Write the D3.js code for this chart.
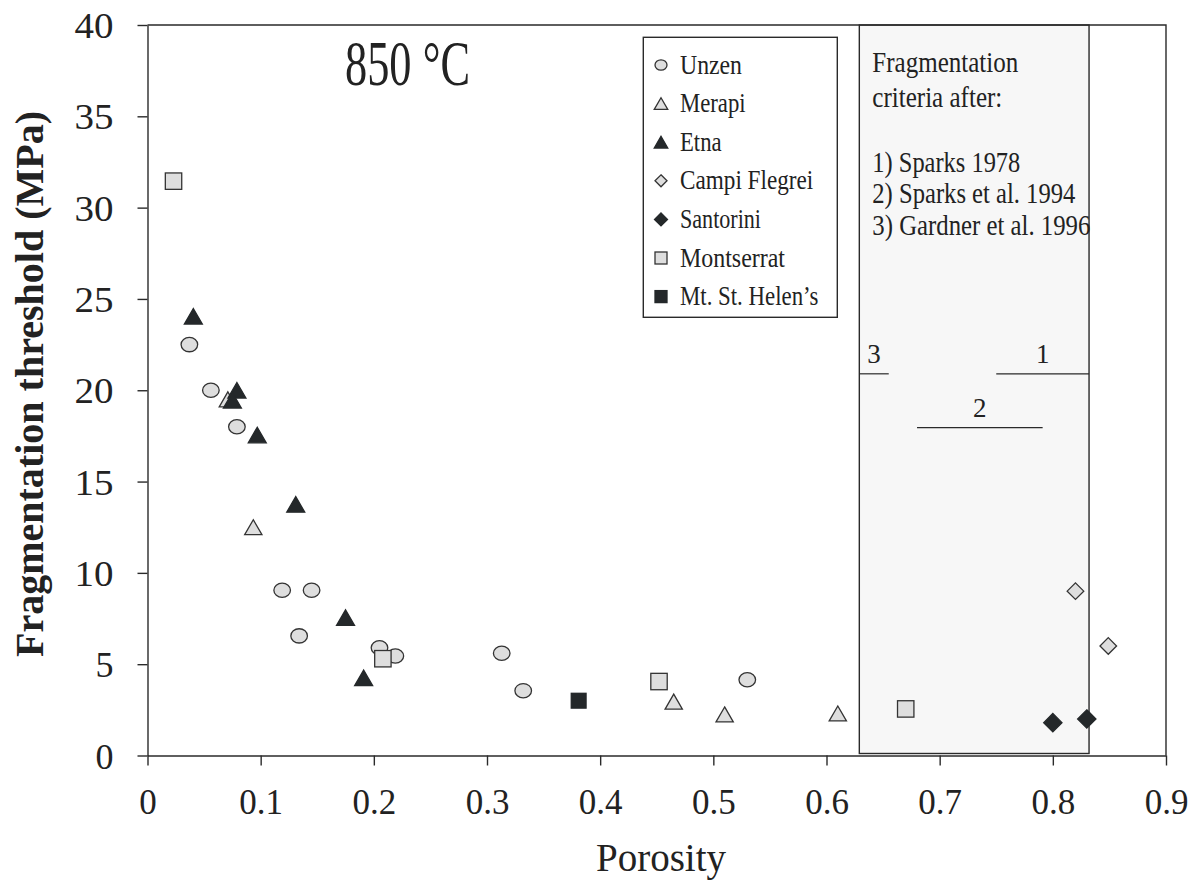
<!DOCTYPE html>
<html><head><meta charset="utf-8">
<script src="https://cdn.jsdelivr.net/npm/d3@7"></script>
<style>
body{margin:0;background:#fff}
text{font-family:"Liberation Serif","Times New Roman",serif;fill:#222}
</style>
</head><body>
<svg id="chart" width="1192" height="882"></svg>
<script>
// ---- data ----
const xTicks = [0, 0.1, 0.2, 0.3, 0.4, 0.5, 0.6, 0.7, 0.8, 0.9];
const yTicks = [0, 5, 10, 15, 20, 25, 30, 35, 40];
const seriesNames = ["Unzen", "Merapi", "Etna", "Campi Flegrei", "Santorini", "Montserrat", "Mt. St. Helen\u2019s"];

const unzen = [[0.037,22.5],[0.056,20.0],[0.079,18.0],[0.119,9.05],[0.145,9.05],[0.134,6.55],[0.205,5.9],[0.219,5.45],[0.313,5.6],[0.332,3.55],[0.530,4.15]];
const merapi = [[0.071,19.5],[0.0935,12.5],[0.465,2.95],[0.510,2.25],[0.610,2.3]];
const etna = [[0.0405,24.05],[0.079,20.0],[0.075,19.45],[0.097,17.55],[0.131,13.75],[0.175,7.55],[0.191,4.25]];
const campiFlegrei = [[0.820,9.0],[0.849,6.0]];
const santorini = [[0.800,1.8],[0.830,2.0]];
const montserrat = [[0.023,31.45],[0.208,5.3],[0.452,4.05],[0.670,2.55]];
const stHelens = [[0.381,3.0]];

const criteriaBox = [0.629, 0.832];
const criteriaLabels = ["1", "2", "3"];
const criteriaLevels = [20.9, 17.95, 20.9];
const criteriaStart = [0.750, 0.680, 0.629];
const criteriaEnd = [0.832, 0.791, 0.655];
const criteriaText = ["Fragmentation", "criteria after:", "", "1) Sparks 1978", "2) Sparks et al. 1994", "3) Gardner et al. 1996"];

const title = "850 \u00B0C";
const xLabel = "Porosity";
const yLabel = "Fragmentation threshold (MPa)";

// ---- chart ----
const svg = d3.select("#chart");
const x = d3.scaleLinear().domain([0, 0.9]).range([147.5, 1166]);
const y = d3.scaleLinear().domain([0, 40]).range([755.5, 25]);
const ink = "#2a2a2a";
const light = "#dedede";
const dark = "#24282a";

// criteria box
svg.append("rect")
  .attr("x", x(criteriaBox[0])).attr("y", y(40))
  .attr("width", x(criteriaBox[1]) - x(criteriaBox[0]))
  .attr("height", y(0) - y(40) - 2)
  .attr("fill", "#f7f7f7").attr("stroke", ink).attr("stroke-width", 1.4);

// criteria text
const ctLens = [146, 130, 0, 148, 203, 218];
const ctY = [72, 106.5, 0, 171.5, 203.3, 235];
criteriaText.forEach((t, i) => {
  if (!t) return;
  svg.append("text").attr("x", x(criteriaBox[0]) + 13).attr("y", ctY[i])
    .attr("font-size", 30).attr("textLength", ctLens[i]).attr("lengthAdjust", "spacingAndGlyphs")
    .text(t);
});

// criteria lines
criteriaLabels.forEach((lab, i) => {
  svg.append("line")
    .attr("x1", x(criteriaStart[i])).attr("x2", x(criteriaEnd[i]))
    .attr("y1", y(criteriaLevels[i])).attr("y2", y(criteriaLevels[i]))
    .attr("stroke", ink).attr("stroke-width", 1.2);
  svg.append("text")
    .attr("x", (x(criteriaStart[i]) + x(criteriaEnd[i])) / 2)
    .attr("y", y(criteriaLevels[i]) - 11)
    .attr("text-anchor", "middle").attr("font-size", 27)
    .text(lab);
});

// axes
const gx = svg.append("g").attr("transform", `translate(0,${y(0)})`)
  .call(d3.axisBottom(x).tickValues(xTicks).tickSize(10).tickSizeOuter(0)
    .tickFormat(d => d === 0 ? "0" : d3.format(".1f")(d)));
gx.selectAll("text").attr("y", 58.5).attr("dy", 0).attr("font-size", 35)
  .style("font-family", '"Liberation Serif","Times New Roman",serif').attr("fill", "#222");
const gy = svg.append("g").attr("transform", `translate(${x(0)},0)`)
  .call(d3.axisLeft(y).tickValues(yTicks).tickSize(10).tickSizeOuter(0));
gy.selectAll("text").attr("x", -34).attr("dy", "0.35em").attr("font-size", 36)
  .style("font-family", '"Liberation Serif","Times New Roman",serif').attr("fill", "#222")
  .each(function(d) { if (d >= 10) d3.select(this).attr("textLength", 39).attr("lengthAdjust", "spacingAndGlyphs"); });
svg.selectAll(".domain, .tick line").attr("stroke", ink).attr("stroke-width", 1.4);

// frame top/right
svg.append("path")
  .attr("d", `M${x(0)},${y(40)}H${x(0.9)}V${y(0)}`)
  .attr("fill", "none").attr("stroke", ink).attr("stroke-width", 1.4);

// marker drawing
function marker(g, shape, cx, cy, s, fill, stroke) {
  let el;
  if (shape === "circle") {
    el = g.append("ellipse").attr("cx", cx).attr("cy", cy).attr("rx", s * 0.5).attr("ry", s * 0.43);
  } else if (shape === "triangle") {
    const w = s * 1.04, h = s * 0.9;
    el = g.append("path").attr("d", `M${cx},${cy - h / 2}L${cx + w / 2},${cy + h / 2}L${cx - w / 2},${cy + h / 2}Z`);
  } else if (shape === "diamond") {
    const w = s, h = s;
    el = g.append("path").attr("d", `M${cx},${cy - h / 2}L${cx + w / 2},${cy}L${cx},${cy + h / 2}L${cx - w / 2},${cy}Z`);
  } else {
    el = g.append("rect").attr("x", cx - s / 2).attr("y", cy - s / 2).attr("width", s).attr("height", s);
  }
  el.attr("fill", fill).attr("stroke", stroke).attr("stroke-width", 1.3);
}

const seriesData = [unzen, merapi, etna, campiFlegrei, santorini, montserrat, stHelens];
const shapes = ["circle", "triangle", "triangle", "diamond", "diamond", "square", "square"];
const fills = [light, light, dark, light, dark, light, dark];
const sizes = [16.6, 16.6, 17.3, 16.6, 18.3, 16.4, 14.8];

const gp = svg.append("g");
seriesData.forEach((data, i) => {
  data.forEach(d => {
    marker(gp, shapes[i], x(d[0]), y(d[1]), sizes[i], fills[i], fills[i] === dark ? dark : "#333");
  });
});

// legend
const lg = svg.append("g");
lg.append("rect").attr("x", 643.3).attr("y", 37.3).attr("width", 194).attr("height", 280)
  .attr("fill", "#fff").attr("stroke", ink).attr("stroke-width", 1.4);
const legLens = [62, 65.6, 41.6, 133.3, 81, 105, 138.3];
const legSizes = [12, 13, 13, 12, 13, 12, 12];
seriesNames.forEach((n, i) => {
  const cy = 65 + i * 38.6;
  marker(lg, shapes[i], 661, cy, legSizes[i], fills[i], fills[i] === dark ? dark : "#333");
  lg.append("text").attr("x", 680).attr("y", cy + 8.5).attr("font-size", 27)
    .attr("textLength", legLens[i]).attr("lengthAdjust", "spacingAndGlyphs").text(n);
});

// title
svg.append("text").attr("x", 345).attr("y", 85).attr("font-size", 63)
  .attr("textLength", 125).attr("lengthAdjust", "spacingAndGlyphs").text(title);

// axis labels
svg.append("text").attr("x", 661).attr("y", 871).attr("text-anchor", "middle")
  .attr("font-size", 39).text(xLabel);
svg.append("text").attr("transform", "translate(43,384) rotate(-90)")
  .attr("text-anchor", "middle").attr("font-size", 40).attr("font-weight", "bold")
  .attr("textLength", 546).attr("lengthAdjust", "spacingAndGlyphs").text(yLabel);
</script>
</body></html>
